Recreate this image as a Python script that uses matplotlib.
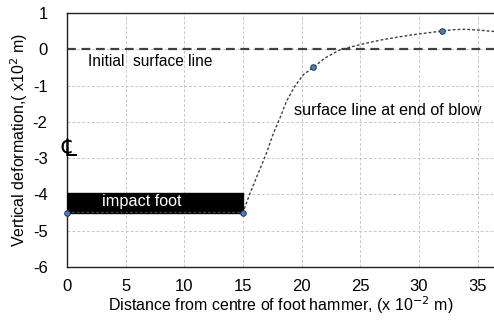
import matplotlib
matplotlib.use("Agg")
from matplotlib import pyplot as plt
from matplotlib.patches import Rectangle

plt.rcParams['font.family'] = ['Liberation Sans', 'DejaVu Sans']
plt.rcParams['axes.unicode_minus'] = False

# puntos medidos (marcadores)
x_puntos = [0, 15, 21, 32]
y_puntos = [-4.5, -4.5, -0.5, 0.5]

# linea de superficie al final del golpe
x_curva = [0, 15, 15.6, 16.3, 17.0, 17.6, 18.2, 18.7, 19.4, 20.15, 21.0, 22.0, 23.3,
           24.4, 25.8, 27.0, 28.3, 29.5, 30.7, 31.9, 33.0, 34.0, 35.0, 36.4]
y_curva = [-4.5, -4.5, -3.97, -3.42, -2.87, -2.31, -1.86, -1.44, -1.03, -0.70, -0.5, -0.24, -0.01,
           0.08, 0.19, 0.27, 0.34, 0.40, 0.45, 0.5, 0.54, 0.55, 0.53, 0.49]

# pie de impacto
pie_x = [0, 15]
pie_y = [-4.5, -3.95]

x_ticks = [0, 5, 10, 15, 20, 25, 30, 35]
y_ticks = [1, 0, -1, -2, -3, -4, -5, -6]

fig = plt.figure(figsize=(4.94, 3.24), dpi=100)
ax = fig.add_axes([0.1356, 0.176, 0.8644, 0.784])

ax.set_xlim(0, 36.4)
ax.set_ylim(-6, 1)
ax.set_xticks(x_ticks)
ax.set_yticks(y_ticks)
ax.grid(True, color='#c8c8c8', linestyle=(0, (3, 2)), linewidth=0.7)
ax.set_axisbelow(True)

# linea de superficie inicial
ax.axhline(0, color='#404040', linestyle=(0, (4, 2.5)), linewidth=1.6)

# pie de impacto
ax.add_patch(Rectangle((pie_x[0], pie_y[0]), pie_x[1] - pie_x[0], pie_y[1] - pie_y[0],
                       facecolor='black', edgecolor='black', zorder=3))

ax.plot(x_curva, y_curva, color='#404040', linestyle=(0, (2, 1.5)), linewidth=1.0, zorder=4)
ax.plot(x_puntos, y_puntos, linestyle='none', marker='o', markersize=4,
        markerfacecolor='#4a7fc1', markeredgecolor='#1f3550', markeredgewidth=0.7,
        zorder=5, clip_on=False)

ax.text(1.8, -0.33, 'Initial  surface line', fontsize=11.2, va='center', ha='left')
ax.text(19.35, -1.7, 'surface line at end of blow', fontsize=11.6, va='center', ha='left')
ax.text(3.0, -4.2, 'impact foot', fontsize=11.7, va='center', ha='left', color='white', zorder=6)
ax.text(0.15, -2.75, '\u2104', fontsize=17, va='center', ha='center', family=['DejaVu Sans'])

ax.spines['right'].set_visible(False)
for s in ['left', 'bottom', 'top']:
    ax.spines[s].set_color('#202020')
    ax.spines[s].set_linewidth(1.0)

ax.tick_params(length=0, labelsize=12)
ax.tick_params(axis='y', pad=14)
ax.tick_params(axis='x', pad=9)

ax.set_xlabel('Distance from centre of foot hammer, (x 10$^{-2}$ m)', fontsize=11.5, labelpad=0)
ax.set_ylabel('Vertical deformation,( x10$^{2}$ m)', fontsize=11.5, labelpad=2)

fig.savefig('out.png', dpi=100)
